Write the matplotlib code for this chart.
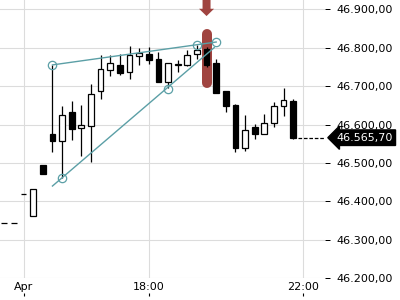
import numpy as np
import matplotlib
matplotlib.use("Agg")
import matplotlib.pyplot as plt
import matplotlib.transforms as mtransforms

# 15-minute candles
opens = [46343, 46343, 46418, 46361, 46494, 46576, 46558, 46632, 46592, 46595,
         46686, 46743, 46754, 46737, 46777, 46784, 46770, 46711, 46756, 46756,
         46783, 46796, 46760, 46687, 46650, 46540, 46593, 46576, 46604, 46649,
         46660]
highs = [46343, 46343, 46418, 46431, 46494, 46755, 46647, 46660, 46650, 46705,
         46780, 46780, 46784, 46803, 46800, 46802, 46789, 46761, 46767, 46793,
         46806, 46802, 46770, 46687, 46653, 46624, 46601, 46627, 46659, 46696,
         46667]
lows = [46343, 46343, 46418, 46361, 46470, 46528, 46462, 46559, 46517, 46502,
        46667, 46726, 46728, 46719, 46754, 46758, 46711, 46694, 46737, 46751,
        46770, 46750, 46682, 46633, 46528, 46531, 46561, 46576, 46594, 46622,
        46561]
closes = [46343, 46343, 46418, 46431, 46470, 46557, 46626, 46587, 46600, 46680,
          46745, 46761, 46734, 46782, 46787, 46769, 46711, 46761, 46758, 46782,
          46793, 46756, 46682, 46648, 46539, 46585, 46576, 46605, 46649, 46663,
          46565.70]

tick_pos = [2, 15, 31]
tick_labels = ["Apr", "18:00", "22:00"]
price_ticks = list(range(46200, 46901, 100))

# wedge drawing (candle index, price)
upper_line = ([5, 22], [46755, 46814.5])
lower_line = ([5, 21.8], [46440, 46800])
anchors_x = [5, 20, 22, 6, 17]
anchors_y = [46755, 46806, 46814.5, 46462, 46693]

marker_idx = 21
marker_range = (46709, 46836)
arrow_tip = 46882

teal = "#5b9fa6"
red = "#9b3a36"


def fmt_price(v):
    s = "{:,.2f}".format(v)
    return s.replace(",", "X").replace(".", ",").replace("X", ".")


fig = plt.figure(figsize=(4, 3), dpi=100)
ax = fig.add_axes([0, 1 - 278.3 / 300, 325 / 400, 278.3 / 300])

x = np.arange(len(opens))
o = np.array(opens)
c = np.array(closes)
up = c >= o

ax.vlines(x, lows, highs, color="black", lw=0.9, zorder=2)
bottoms = np.minimum(o, c)
heights = np.abs(c - o)
ax.bar(x[up], heights[up], bottom=bottoms[up], width=0.6,
       facecolor="white", edgecolor="black", lw=0.9, zorder=3)
ax.bar(x[~up], heights[~up], bottom=bottoms[~up], width=0.6,
       facecolor="black", edgecolor="black", lw=0.9, zorder=3)

# marked candle
ax.plot([marker_idx, marker_idx], marker_range, color=red, lw=7.2,
        solid_capstyle="round", alpha=0.95, zorder=1)
ax.arrow(marker_idx, 46960, 0, arrow_tip - 46960, width=0.83, head_width=1.56,
         head_length=19, length_includes_head=True, color=red, lw=0,
         alpha=0.95, zorder=1)

# wedge
ax.plot(*upper_line, color=teal, lw=1.0, zorder=4)
ax.plot(*lower_line, color=teal, lw=1.0, zorder=4)
ax.plot(anchors_x, anchors_y, "o", ms=6, mfc="none", mec=teal, mew=0.9, zorder=5)

# last price
last = closes[-1]
ax.hlines(last, len(closes) - 0.5, 33.3, color="black", lw=0.9,
          linestyles=(0, (2.9, 1.45)), zorder=2)
trans = mtransforms.blended_transform_factory(ax.transAxes, ax.transData)
ax.text(1.035, last, fmt_price(last), transform=trans, color="white", fontsize=8,
        va="center", ha="left", clip_on=False,
        bbox=dict(boxstyle="larrow,pad=0.25", fc="black", ec="black"))

ax.set_xlim(-0.447, 33.3)
ax.set_ylim(46200, 46923.8)

ax.set_xticks(tick_pos)
ax.set_xticklabels(tick_labels)
ax.tick_params(axis="x", length=0, pad=3, labelsize=8)

ax.yaxis.tick_right()
ax.set_yticks(price_ticks)
ax.set_yticklabels([fmt_price(v) for v in price_ticks])
ax.tick_params(axis="y", length=3.6, width=0.72, pad=4.3, labelsize=8)

ax.grid(True, color="#dcdcdc", lw=0.8)
ax.set_axisbelow(True)
for s in ax.spines.values():
    s.set_visible(False)

sec = ax.secondary_xaxis(-0.0636)
sec.set_xticks(tick_pos)
sec.tick_params(direction="in", length=2.5, width=0.8, labelbottom=False)
for s in sec.spines.values():
    s.set_visible(False)

fig.savefig("out.png", dpi=100)
